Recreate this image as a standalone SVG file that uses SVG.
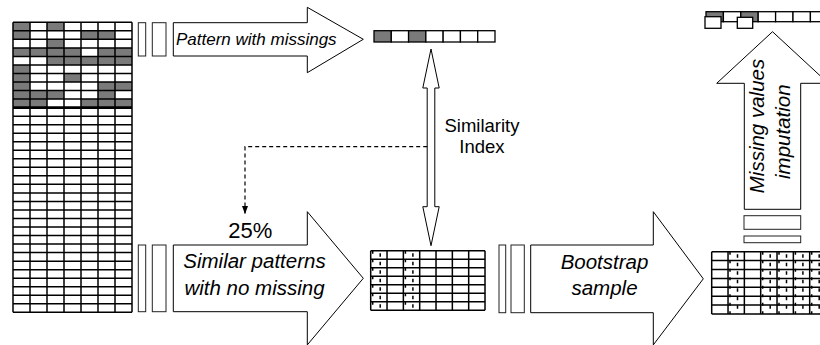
<svg xmlns="http://www.w3.org/2000/svg" width="820" height="345" viewBox="0 0 820 345">
  <style>
    .cell { fill: #ffffff; stroke: #000; stroke-width: 1.3; }
    .gray { fill: #7a7a7a; stroke: none; }
    .gridline { fill: none; stroke: #000; stroke-width: 1.5; }
    .bar { fill: #ffffff; stroke: #222; stroke-width: 1; }
    .arrow { fill: #ffffff; stroke: #000; stroke-width: 1; stroke-linejoin: miter; }
    .mark1 { fill: none; stroke: #000; stroke-width: 1.5; stroke-dasharray: 3 5.5; }
    .mark2 { fill: none; stroke: #000; stroke-width: 1.5; stroke-dasharray: 3.5 5; }
    .lbl { font-family: "Liberation Sans", Arial, sans-serif; fill: #000; }
    .it { font-style: italic; }
    .dash { fill: none; stroke: #000; stroke-width: 1.2; stroke-dasharray: 4 3; }
  </style>
  <defs>
    <marker id="dashHead" viewBox="0 0 8 6" refX="8" refY="3" markerWidth="8" markerHeight="6" markerUnits="userSpaceOnUse" orient="auto">
      <path d="M0,0 L8,3 L0,6 z" fill="#000"/>
    </marker>
  </defs>
  <rect x="0" y="0" width="820" height="345" fill="#ffffff"/>

  <!-- Source data matrix -->
  <g id="source-matrix">
    <rect x="13" y="22.3" width="119" height="290" fill="#ffffff"/>
    <rect class="gray" x="13" y="22.3" width="17" height="8.53"/>
    <rect class="gray" x="47" y="22.3" width="17" height="8.53"/>
    <rect class="gray" x="13" y="30.83" width="17" height="8.53"/>
    <rect class="gray" x="81" y="30.83" width="34" height="8.53"/>
    <rect class="gray" x="47" y="39.36" width="17" height="8.53"/>
    <rect class="gray" x="13" y="47.89" width="68" height="8.53"/>
    <rect class="gray" x="98" y="47.89" width="34" height="8.53"/>
    <rect class="gray" x="47" y="56.42" width="85" height="8.53"/>
    <rect class="gray" x="13" y="64.95" width="17" height="8.53"/>
    <rect class="gray" x="13" y="73.48" width="17" height="8.53"/>
    <rect class="gray" x="64" y="73.48" width="17" height="8.53"/>
    <rect class="gray" x="13" y="82.01" width="17" height="8.53"/>
    <rect class="gray" x="98" y="82.01" width="34" height="8.53"/>
    <rect class="gray" x="13" y="90.54" width="51" height="8.53"/>
    <rect class="gray" x="98" y="90.54" width="17" height="8.53"/>
    <rect class="gray" x="13" y="99.07" width="34" height="8.53"/>
    <rect class="gray" x="81" y="99.07" width="51" height="8.53"/>
    <path class="gridline" d="M13 22.3H132M13 30.83H132M13 39.36H132M13 47.89H132M13 56.42H132M13 64.95H132M13 73.48H132M13 82.01H132M13 90.54H132M13 99.07H132M13 116.13H132M13 124.66H132M13 133.19H132M13 141.72H132M13 150.25H132M13 158.78H132M13 167.31H132M13 175.84H132M13 184.37H132M13 192.9H132M13 201.43H132M13 209.96H132M13 218.49H132M13 227.02H132M13 235.55H132M13 244.08H132M13 252.61H132M13 261.14H132M13 269.67H132M13 278.2H132M13 286.73H132M13 295.26H132M13 303.79H132M13 312.32H132M13 22.3V312.32M30 22.3V312.32M47 22.3V312.32M64 22.3V312.32M81 22.3V312.32M98 22.3V312.32M115 22.3V312.32M132 22.3V312.32"/>
    <path d="M13 107.6H132" fill="none" stroke="#000" stroke-width="2.8"/>
  </g>

  <!-- Selected pattern flow (top) -->
  <g id="pattern-bars">
    <rect class="bar" x="138.3" y="22.7" width="7.4" height="33.3"/>
    <rect class="bar" x="152.3" y="22.7" width="13.7" height="33.3"/>
  </g>
  <g id="arrow-pattern">
    <polygon class="arrow" points="173.3,22.7 307.3,22.7 307.3,7.3 363.3,39.3 307.3,72.7 307.3,56 173.3,56"/>
    <text class="lbl it" x="176" y="45" font-size="17">Pattern with missings</text>
  </g>

  <!-- Pattern with missings row -->
  <g id="pattern-row">
    <rect class="cell" x="374" y="30.7" width="17.29" height="11.3" style="fill:#7a7a7a"/>
    <rect class="cell" x="391.29" y="30.7" width="17.29" height="11.3"/>
    <rect class="cell" x="408.57" y="30.7" width="17.29" height="11.3" style="fill:#7a7a7a"/>
    <rect class="cell" x="425.86" y="30.7" width="17.29" height="11.3"/>
    <rect class="cell" x="443.14" y="30.7" width="17.29" height="11.3"/>
    <rect class="cell" x="460.43" y="30.7" width="17.29" height="11.3"/>
    <rect class="cell" x="477.71" y="30.7" width="17.29" height="11.3"/>
  </g>

  <!-- Similar patterns flow (bottom) -->
  <g id="similar-bars">
    <rect class="bar" x="138.3" y="245" width="7.4" height="66.7"/>
    <rect class="bar" x="152.3" y="245" width="13.7" height="66.7"/>
  </g>
  <g id="arrow-similar">
    <polygon class="arrow" points="173.3,245 307.3,245 307.3,211.7 363.3,278.3 307.3,344.9 307.3,311.7 173.3,311.7"/>
    <text class="lbl it" x="254.5" y="268.3" font-size="20.5" text-anchor="middle">Similar patterns</text>
    <text class="lbl it" x="254.5" y="295" font-size="20.5" text-anchor="middle">with no missing</text>
  </g>
  <g id="label-25">
    <text class="lbl" x="228.3" y="237.5" font-size="22">25%</text>
  </g>

  <!-- Subset matrix -->
  <g id="subset-matrix">
    <rect x="370.7" y="250.7" width="114.3" height="59.5" fill="#fff"/>
    <path class="mark1" d="M372.7 250.7V310.2M405.4 250.7V310.2"/>
    <path class="mark2" d="M380.2 253.2V310.2M412.9 253.2V310.2"/>
    <path class="gridline" d="M370.7 250.7H485M370.7 259.2H485M370.7 267.7H485M370.7 276.2H485M370.7 284.7H485M370.7 293.2H485M370.7 301.7H485M370.7 310.2H485M370.7 250.7V310.2M387.03 250.7V310.2M403.36 250.7V310.2M419.69 250.7V310.2M436.02 250.7V310.2M452.35 250.7V310.2M468.68 250.7V310.2M485.01 250.7V310.2"/>
  </g>

  <!-- Bootstrap flow -->
  <g id="bootstrap-bars">
    <rect class="bar" x="499" y="245" width="6.7" height="67.7"/>
    <rect class="bar" x="511" y="245" width="13.3" height="67.7"/>
  </g>
  <g id="arrow-bootstrap">
    <polygon class="arrow" points="530.7,245 653.3,245 653.3,211.7 703.3,278.8 653.3,344.9 653.3,312.7 530.7,312.7"/>
    <text class="lbl it" x="604.5" y="269.3" font-size="20.5" text-anchor="middle">Bootstrap</text>
    <text class="lbl it" x="604.5" y="295" font-size="20.5" text-anchor="middle">sample</text>
  </g>

  <!-- Bootstrap sample matrix -->
  <g id="bootstrap-matrix">
    <rect x="711.7" y="251.7" width="110" height="62.3" fill="#fff"/>
    <path class="mark1" d="M730 251.7V314M762.7 251.7V314M779 251.7V314M795.4 251.7V314M811.7 251.7V314"/>
    <path class="mark2" d="M737.5 254.2V314M770.2 254.2V314M786.5 254.2V314M802.9 254.2V314M819.2 254.2V314"/>
    <path class="gridline" d="M711.7 251.7H821M711.7 260.6H821M711.7 269.5H821M711.7 278.4H821M711.7 287.3H821M711.7 296.2H821M711.7 305.1H821M711.7 314H821M711.7 251.7V314M728.03 251.7V314M744.36 251.7V314M760.69 251.7V314M777.02 251.7V314M793.35 251.7V314M809.68 251.7V314"/>
  </g>

  <!-- Imputation flow -->
  <g id="imputation-bars">
    <rect class="bar" x="744" y="215.7" width="56.7" height="13.6"/>
    <rect class="bar" x="744" y="236" width="56.7" height="6.7"/>
  </g>
  <g id="arrow-imputation">
    <polygon class="arrow" points="744.3,209.3 744.3,83.3 716.7,83.3 772.5,31.7 828.3,83.3 800.7,83.3 800.7,209.3"/>
    <text class="lbl it" transform="translate(764,126) rotate(-90)" font-size="20.5" text-anchor="middle">Missing values</text>
    <text class="lbl it" transform="translate(789.5,131.7) rotate(-90)" font-size="20.5" text-anchor="middle">imputation</text>
  </g>

  <!-- Imputed row -->
  <g id="imputed-row">
    <rect class="cell" x="706" y="11.7" width="17.4" height="10" style="fill:#7a7a7a"/>
    <rect class="cell" x="723.4" y="11.7" width="17.4" height="10"/>
    <rect class="cell" x="740.8" y="11.7" width="17.4" height="10" style="fill:#7a7a7a"/>
    <rect class="cell" x="758.2" y="11.7" width="17.4" height="10"/>
    <rect class="cell" x="775.6" y="11.7" width="17.4" height="10"/>
    <rect class="cell" x="793" y="11.7" width="17.4" height="10"/>
    <rect class="cell" x="810.4" y="11.7" width="17.4" height="10"/>
    <rect class="cell" x="705" y="16.7" width="16" height="11.6"/>
    <rect class="cell" x="737.3" y="17.3" width="15.4" height="11"/>
  </g>

  <!-- Connectors -->
  <g id="connectors">
    <g id="similarity-index">
      <polygon class="arrow" points="431,49 439.2,88 434.8,88 434.8,206.7 439.2,206.7 431,245.7 422.8,206.7 427.2,206.7 427.2,88 422.8,88"/>
      <text class="lbl" x="482" y="132" font-size="18.5" text-anchor="middle">Similarity</text>
      <text class="lbl" x="482" y="153" font-size="18.5" text-anchor="middle">Index</text>
    </g>
    <path id="selection-link" class="dash" d="M427.2 146.7H245V214" marker-end="url(#dashHead)"/>
  </g>
</svg>
